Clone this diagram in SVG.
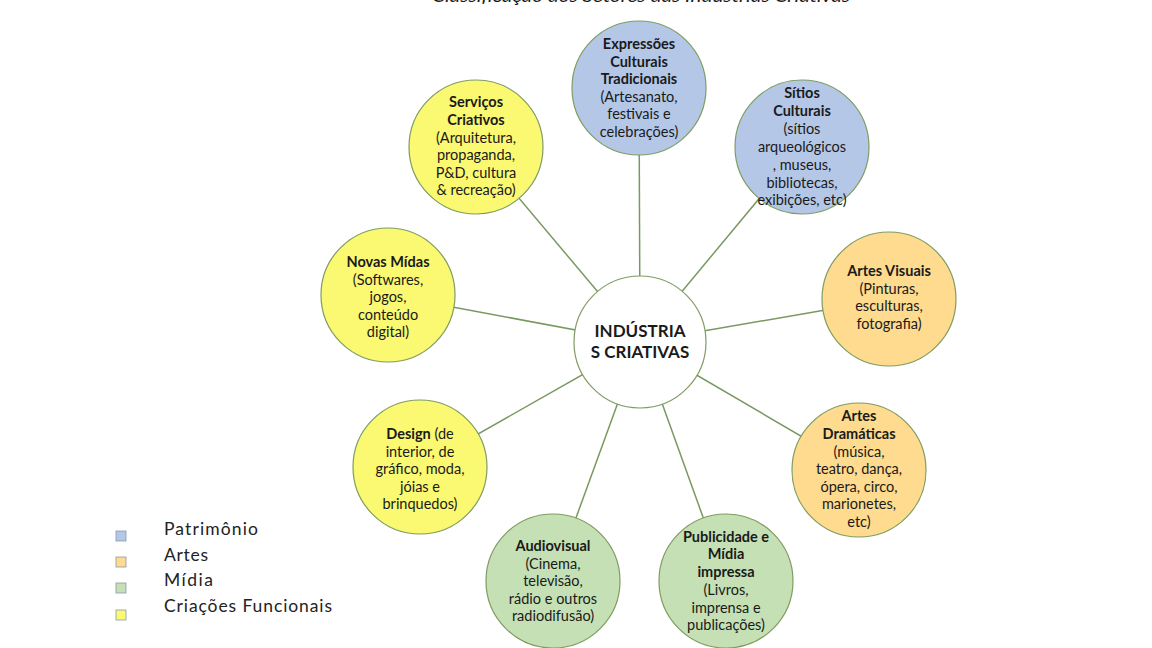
<svg xmlns="http://www.w3.org/2000/svg" width="1152" height="648" viewBox="0 0 1152 648">
<style>
.n{stroke:#7f9c62;stroke-width:1.2}
.pat{fill:#b4c7e7}.art{fill:#fedb8e}.mid{fill:#c5e0b4}.fun{fill:#fbf871}
.c{stroke:#7a9860;stroke-width:1.5;fill:none}
text{font-family:Lato,"Liberation Sans",sans-serif;font-size:14.5px;fill:#1a1a1a;text-anchor:middle}
.b{font-weight:bold}
.ctr{font-size:17px;font-weight:bold}
.leg{font-size:17.5px;text-anchor:start;fill:#222}
.sq{stroke:#8a9aa8;stroke-width:0.8}
</style>
<rect width="1152" height="648" fill="#fff"/>
<text x="641" y="2" style="font-size:18px;font-style:italic" textLength="418" lengthAdjust="spacingAndGlyphs">Classificação dos Setores das Indústrias Criativas</text>
<g id="connectors">
<line class="c" x1="640" y1="342" x2="639" y2="88"/>
<line class="c" x1="640" y1="342" x2="802" y2="147"/>
<line class="c" x1="640" y1="342" x2="889" y2="299"/>
<line class="c" x1="640" y1="342" x2="859" y2="470"/>
<line class="c" x1="640" y1="342" x2="726" y2="581"/>
<line class="c" x1="640" y1="342" x2="553" y2="581"/>
<line class="c" x1="640" y1="342" x2="420" y2="467"/>
<line class="c" x1="640" y1="342" x2="388" y2="295"/>
<line class="c" x1="640" y1="342" x2="476" y2="147"/>
</g>
<g id="center">
<circle class="n" cx="640" cy="342" r="66" fill="#fff"/>
<text class="ctr" x="640" y="337">INDÚSTRIA</text>
<text class="ctr" x="640" y="358">S CRIATIVAS</text>
</g>
<g id="expressoes">
<circle class="n pat" cx="639" cy="88" r="67"/>
<text x="639" y="49" class="b">Expressões</text>
<text x="639" y="66.5" class="b">Culturais</text>
<text x="639" y="84" class="b">Tradicionais</text>
<text x="639" y="101.5">(Artesanato,</text>
<text x="639" y="119">festivais e</text>
<text x="639" y="136.5">celebrações)</text>
</g>
<g id="sitios">
<circle class="n pat" cx="802" cy="147" r="67"/>
<text x="802" y="98" class="b">Sítios</text>
<text x="802" y="116" class="b">Culturais</text>
<text x="802" y="134">(sítios</text>
<text x="802" y="152">arqueológicos</text>
<text x="802" y="170">, museus,</text>
<text x="802" y="188">bibliotecas,</text>
<text x="802" y="205">exibições, etc)</text>
</g>
<g id="artes-visuais">
<circle class="n art" cx="889" cy="299" r="67"/>
<text x="889" y="276" class="b">Artes Visuais</text>
<text x="889" y="294">(Pinturas,</text>
<text x="889" y="311">esculturas,</text>
<text x="889" y="329">fotografia)</text>
</g>
<g id="artes-dramaticas">
<circle class="n art" cx="859" cy="470" r="67"/>
<text x="859" y="421" class="b">Artes</text>
<text x="859" y="439" class="b">Dramáticas</text>
<text x="859" y="457">(música,</text>
<text x="859" y="474">teatro, dança,</text>
<text x="859" y="492">ópera, circo,</text>
<text x="859" y="509">marionetes,</text>
<text x="859" y="527">etc)</text>
</g>
<g id="publicidade">
<circle class="n mid" cx="726" cy="581" r="67"/>
<text x="726" y="542" class="b">Publicidade e</text>
<text x="726" y="559" class="b">Mídia</text>
<text x="726" y="577" class="b">impressa</text>
<text x="726" y="595">(Livros,</text>
<text x="726" y="613">imprensa e</text>
<text x="726" y="630">publicações)</text>
</g>
<g id="audiovisual">
<circle class="n mid" cx="553" cy="581" r="67"/>
<text x="553" y="551" class="b">Audiovisual</text>
<text x="553" y="569">(Cinema,</text>
<text x="553" y="586">televisão,</text>
<text x="553" y="604">rádio e outros</text>
<text x="553" y="621">radiodifusão)</text>
</g>
<g id="design">
<circle class="n fun" cx="420" cy="467" r="67"/>
<text x="420" y="439"><tspan class="b">Design</tspan> (de</text>
<text x="420" y="457">interior, de</text>
<text x="420" y="474">gráfico, moda,</text>
<text x="420" y="492">jóias e</text>
<text x="420" y="509">brinquedos)</text>
</g>
<g id="novas-midias">
<circle class="n fun" cx="388" cy="295" r="67"/>
<text x="388" y="267" class="b">Novas Mídas</text>
<text x="388" y="285">(Softwares,</text>
<text x="388" y="302">jogos,</text>
<text x="388" y="320">conteúdo</text>
<text x="388" y="337">digital)</text>
</g>
<g id="servicos">
<circle class="n fun" cx="476" cy="147" r="67"/>
<text x="476" y="107" class="b">Serviços</text>
<text x="476" y="125" class="b">Criativos</text>
<text x="476" y="143">(Arquitetura,</text>
<text x="476" y="160">propaganda,</text>
<text x="476" y="178">P&amp;D, cultura</text>
<text x="476" y="195">&amp; recreação)</text>
</g>
<g id="legend">
<rect class="sq pat" x="116" y="531" width="10" height="10"/>
<rect class="sq art" x="116" y="557" width="10" height="10"/>
<rect class="sq mid" x="116" y="583" width="10" height="10"/>
<rect class="sq fun" x="116" y="610" width="10" height="10"/>
<text class="leg" x="164" y="535" textLength="94">Patrimônio</text>
<text class="leg" x="164" y="561" textLength="44">Artes</text>
<text class="leg" x="164" y="586" textLength="49">Mídia</text>
<text class="leg" x="164" y="612" textLength="168">Criações Funcionais</text>
</g>
</svg>
